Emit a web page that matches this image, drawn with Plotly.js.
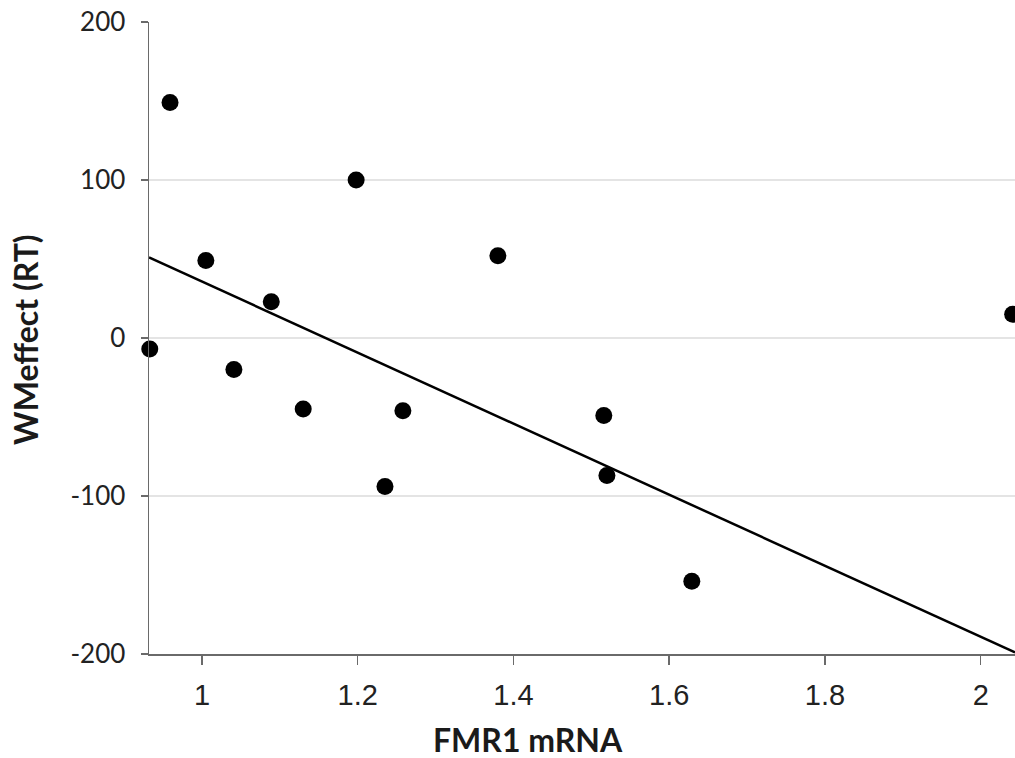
<!DOCTYPE html>
<html>
<head>
<meta charset="utf-8">
<script src="https://cdn.plot.ly/plotly-3.0.1.min.js"></script>
<style>
  html, body { margin: 0; padding: 0; background: #fff; }
  #chart { width: 1015px; height: 758px; }
</style>
</head>
<body>
<div id="chart"></div>
<script>
// FMR1 mRNA level vs. working-memory effect on reaction time
const fmr1 = [0.959, 1.005, 0.933, 1.041, 1.089, 1.130, 1.198, 1.235, 1.258, 1.380, 1.516, 1.520, 1.629, 2.041];
const wmEffect = [149, 49, -7, -20, 23, -45, 100, -94, -46, 52, -49, -87, -154, 15];

// Linear trend line endpoints
const trendX = [0.932, 2.044];
const trendY = [51, -199];

const yTicks = [-200, -100, 0, 100, 200];
const yTickText = ['-200', '-100', '0', '100', '200'];
const xTicks = [1, 1.2, 1.4, 1.6, 1.8, 2];
const xTickText = ['1', '1.2', '1.4', '1.6', '1.8', '2'];

const xTitle = 'FMR1 mRNA';
const yTitle = 'WMeffect (RT)';

const points = {
  x: fmr1,
  y: wmEffect,
  type: 'scatter',
  mode: 'markers',
  marker: { color: '#000', size: 17 },
  cliponaxis: false,
  hoverinfo: 'x+y'
};

const trend = {
  x: trendX,
  y: trendY,
  type: 'scatter',
  mode: 'lines',
  line: { color: '#000', width: 2.5 },
  hoverinfo: 'skip'
};

const titleFont = { family: 'Lato, Open Sans, sans-serif', size: 32, color: '#1a1a1a', weight: 700 };

const layout = {
  width: 1015,
  height: 758,
  margin: { l: 149, r: 0, t: 22, b: 104 },
  paper_bgcolor: '#fff',
  plot_bgcolor: '#fff',
  showlegend: false,
  xaxis: {
    range: [0.932, 2.044],
    tickvals: xTicks,
    ticktext: xTickText,
    showgrid: false,
    zeroline: false,
    showline: true,
    linecolor: '#6a6a6a',
    linewidth: 1.5,
    ticks: 'outside',
    ticklen: 9,
    tickwidth: 1.5,
    tickcolor: '#6a6a6a',
    ticklabelstandoff: 6,
    tickfont: { family: '"Liberation Sans", Arial, sans-serif', size: 29, color: '#222' }
  },
  yaxis: {
    range: [-200, 200],
    tickvals: yTicks,
    ticktext: yTickText,
    showgrid: true,
    gridcolor: '#e4e4e4',
    gridwidth: 2,
    zeroline: false,
    showline: true,
    linecolor: '#6a6a6a',
    linewidth: 1.5,
    ticks: 'outside',
    ticklen: 7,
    tickwidth: 1.5,
    tickcolor: '#6a6a6a',
    ticklabelstandoff: 10,
    tickfont: { family: 'Lato, Open Sans, sans-serif', size: 26, color: '#222' }
  },
  annotations: [
    {
      text: xTitle,
      xref: 'paper', yref: 'paper',
      x: 0.4376, y: -0.136,
      xanchor: 'center', yanchor: 'middle',
      showarrow: false,
      font: titleFont
    },
    {
      text: yTitle,
      xref: 'paper', yref: 'paper',
      x: -0.142, y: 0.497,
      xanchor: 'center', yanchor: 'middle',
      textangle: -90,
      showarrow: false,
      font: titleFont
    }
  ]
};

Plotly.newPlot('chart', [trend, points], layout, { displayModeBar: false, staticPlot: true });
</script>
</body>
</html>
